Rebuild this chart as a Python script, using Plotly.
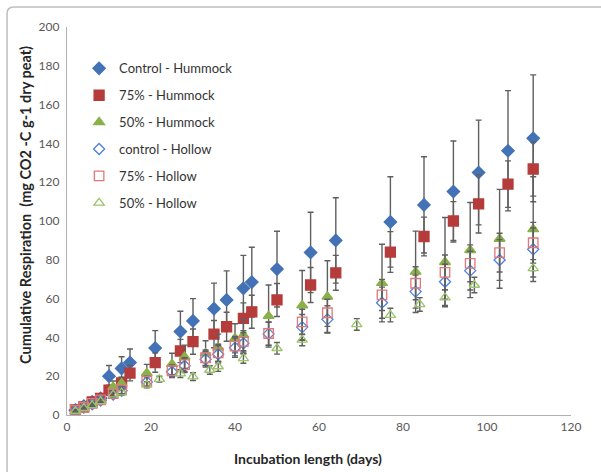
import plotly.graph_objects as go

# Sampling days
days_hummock = [2, 4, 6, 8, 10, 13, 15, 21, 27, 30, 35, 38, 42, 44, 50, 58, 64, 77, 85, 92, 98, 105, 111]
days_hollow = [2, 4, 6, 8, 11, 13, 19, 25, 28, 33, 36, 40, 42, 48, 56, 62, 75, 83, 90, 96, 103, 111]
days_50_hollow = [2, 4, 6, 8, 11, 13, 19, 22, 27, 30, 34, 36, 42, 50, 56, 69, 77, 84, 90, 97, 111]

# Cumulative respiration (mg CO2-C g-1 dry peat) and standard errors
control_hummock = [2.5, 4.6, 6.8, 8.6, 20, 24, 27, 34.5, 43, 48.5, 54.8, 59.3, 65.3, 68.5, 75.2, 83.8, 90, 99.5, 108.3, 115.2, 125, 136.2, 142.6]
control_hummock_err = [0.5, 1, 1.5, 2, 5.5, 6, 7, 9, 10.5, 11.5, 13.2, 15, 17, 18, 19.5, 20.7, 22, 23.3, 24.8, 26, 27, 31, 32.7]

p75_hummock = [2.6, 4.2, 6.7, 8.5, 12.8, 16.5, 21.6, 27, 33, 37.8, 41.7, 45.5, 49.8, 53.2, 59.3, 67, 73.3, 84, 92, 100, 108.8, 119, 126.8]
p75_hummock_err = [0.5, 0.8, 1.2, 1.5, 2.5, 3, 4, 5, 6, 6.5, 7, 7.5, 8, 8.5, 8.5, 9, 9, 10.5, 10, 10, 15, 12, 14]

p50_hummock = [1.8, 4.5, 6, 7.5, 14.5, 16.3, 21.6, 26.3, 30, 31.8, 34.7, 39.5, 41.2, 51, 56.5, 61, 68, 73.8, 78.8, 85, 90.8, 95.8]
p50_hummock_err = [0.5, 1, 1.5, 2, 3, 3, 4.5, 5.5, 6, 6.5, 7, 7.5, 8, 16, 18, 18.5, 20, 21, 23, 24.5, 25.5, 27]

control_hollow = [2.2, 3.8, 5.5, 7.5, 10.5, 12.5, 17, 22.3, 25.4, 28.7, 31.3, 34.7, 37, 41.8, 45.3, 49.3, 57.9, 63.6, 68.7, 74.4, 79.9, 85.4]
control_hollow_err = [0.4, 0.6, 0.8, 1, 1.5, 2, 2.5, 3, 3.5, 4, 4.5, 5, 5.5, 6, 6.5, 7, 8, 8.5, 9, 10, 10.5, 11]

p75_hollow = [2.4, 4, 6, 7.8, 11, 13, 17.5, 22.8, 26, 29.5, 32, 35.5, 38, 42, 48, 52.7, 61.9, 67.9, 73.5, 78.2, 83.7, 88.8]
p75_hollow_err = [0.4, 0.6, 0.8, 1, 1.5, 2, 2.5, 3, 3.5, 4, 4.5, 5, 5.5, 6, 6.5, 7, 8, 8.5, 9, 9.5, 10, 10.5]

p50_hollow = [2, 3.5, 5, 7, 10.5, 11.5, 15.5, 18.5, 21.3, 19.8, 23.2, 25, 29.2, 34.4, 38.7, 46.7, 51.5, 57, 60.5, 67, 75.6]
p50_hollow_err = [0.3, 0.5, 0.6, 0.8, 1, 1.2, 1.5, 1.5, 2, 2, 2.2, 2.5, 2.5, 3, 3, 3, 3.5, 3.5, 4, 4, 4.5]

series = [
    ("Control - Hummock", days_hummock, control_hummock, control_hummock_err, "diamond", "#4372B6", 9.5),
    ("75% - Hummock", days_hummock, p75_hummock, p75_hummock_err, "square", "#B53C3A", 10),
    ("50% - Hummock", days_hollow, p50_hummock, p50_hummock_err, "triangle-up", "#8AB04A", 9.5),
    ("control - Hollow", days_hollow, control_hollow, control_hollow_err, "diamond-open", "#4F7FE3", 8.5),
    ("75% - Hollow", days_hollow, p75_hollow, p75_hollow_err, "square-open", "#E07878", 9.5),
    ("50% - Hollow", days_50_hollow, p50_hollow, p50_hollow_err, "triangle-up-open", "#9CC46A", 9),
]

fig = go.Figure()
for i, (name, x, y, err, symbol, color, size) in enumerate(series):
    fig.add_trace(go.Scatter(
        x=x, y=y, name=name, mode="markers",
        legendgroup=str(i),
        marker=dict(symbol=symbol, size=size, color=color,
                    line=dict(width=1.3, color=color)),
        error_y=dict(type="data", array=err, visible=True,
                     color="#5f5f5f", thickness=1.4, width=3),
    ))

fig.update_layout(
    width=601, height=472,
    margin=dict(l=67, r=30, t=27, b=57),
    paper_bgcolor="white", plot_bgcolor="white",
    font=dict(family="Lato, 'Open Sans', sans-serif", color="#404040"),
    showlegend=True,
    legend=dict(
        x=0.024, y=0.932, xanchor="left", yanchor="top",
        bgcolor="rgba(0,0,0,0)", borderwidth=0,
        font=dict(size=13, color="#333333"),
        tracegroupgap=7, itemwidth=30,
    ),
    xaxis=dict(
        range=[0, 120], dtick=20, showgrid=False, zeroline=False,
        showline=True, linecolor="#b0b0b0", linewidth=1.2,
        ticks="", tickfont=dict(size=12, color="#595959"),
    ),
    yaxis=dict(
        range=[0, 200], dtick=20, showgrid=False, zeroline=False,
        showline=True, linecolor="#b0b0b0", linewidth=1.2,
        ticks="", tickfont=dict(size=12, color="#595959"),
        ticklabelstandoff=4,
    ),
    annotations=[
        dict(text="<b>Incubation length (days)</b>", xref="paper", yref="paper",
             x=(308 - 67) / 504, y=-(458 - 415) / 388, xanchor="center", yanchor="middle",
             showarrow=False, font=dict(size=14, color="#262626")),
        dict(text="<b>Cumulative Respiration  (mg CO2 -C g-1 dry peat)</b>", xref="paper", yref="paper",
             x=-(67 - 25) / 504, y=(415 - 205) / 388, xanchor="center", yanchor="middle",
             textangle=-90, showarrow=False, font=dict(size=14.5, color="#262626")),
    ],
    shapes=[
        # outer chart frame
        dict(type="path", xref="paper", yref="paper",
             path="M -0.119,-0.2 L -0.119,1.035 Q -0.119,1.0515 -0.105,1.0515 L 1.1,1.0515",
             line=dict(color="#bdbdbd", width=1.5)),
    ],
)

fig.write_html("out.html")
